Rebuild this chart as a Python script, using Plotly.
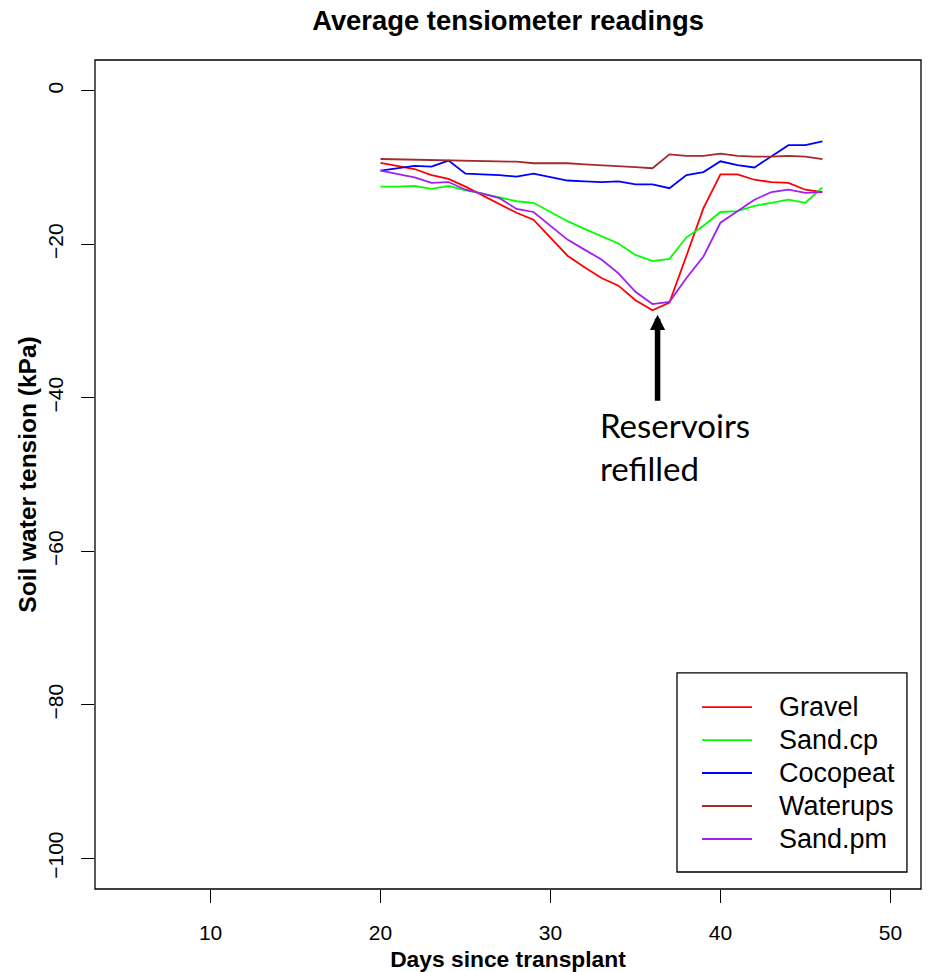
import plotly.graph_objects as go

days = list(range(20, 47))
gravel = [-9.4, -9.8, -10.2, -11.0, -11.5, -12.5, -13.6, -14.7, -15.9, -16.8, -19.2, -21.5, -23.0, -24.4,
          -25.4, -27.3, -28.6, -27.6, -21.5, -15.3, -10.9, -10.9, -11.6, -11.9, -12.0, -12.9, -13.2]
sand_cp = [-12.5, -12.5, -12.4, -12.8, -12.4, -13.0, -13.4, -13.9, -14.4, -14.6, -15.8, -17.0, -18.0, -18.9,
           -19.9, -21.4, -22.2, -21.9, -19.1, -17.6, -15.8, -15.7, -15.0, -14.6, -14.2, -14.6, -12.6]
cocopeat = [-10.4, -10.1, -9.8, -9.9, -9.1, -10.8, -10.9, -11.0, -11.2, -10.8, -11.25, -11.7, -11.8, -11.9,
            -11.8, -12.2, -12.2, -12.7, -11.0, -10.6, -9.2, -9.7, -10.0, -8.6, -7.1, -7.1, -6.6]
waterups = [-8.9, -8.95, -8.95, -9.0, -9.0, -9.1, -9.15, -9.2, -9.25, -9.45, -9.45, -9.45, -9.6, -9.7,
            -9.8, -9.95, -10.1, -8.3, -8.5, -8.5, -8.2, -8.5, -8.6, -8.6, -8.5, -8.6, -8.9]
sand_pm = [-10.4, -10.9, -11.3, -12.0, -11.9, -12.9, -13.4, -14.0, -15.4, -15.8, -17.6, -19.4, -20.7, -22.0,
           -23.8, -26.2, -27.8, -27.5, -24.4, -21.6, -17.2, -15.7, -14.2, -13.2, -12.9, -13.3, -13.2]

series_names = ["Gravel", "Sand.cp", "Cocopeat", "Waterups", "Sand.pm"]
series_values = [gravel, sand_cp, cocopeat, waterups, sand_pm]
series_colors = ["#FF0000", "#00FF00", "#0000FF", "#A52A2A", "#A020F0"]

x_ticks = [10, 20, 30, 40, 50]
y_ticks = [-100, -80, -60, -40, -20, 0]

arrow_x = 36.3
arrow_tip_y = -29.2
arrow_tail_y = -40.6
note_x = 32.8
note_y = -46.3
note_text = "Reservoirs<br>refilled"

FONT = "Liberation Sans, Arial, sans-serif"

W, H = 928, 972

fig = go.Figure()
for name, vals, col in zip(series_names, series_values, series_colors):
    fig.add_trace(go.Scatter(x=days, y=vals, mode="lines", name=name,
                             line=dict(color=col, width=1.8), showlegend=False))

# box around plot region
shapes = [dict(type="rect", xref="paper", yref="paper", x0=0, x1=1, y0=0, y1=1,
               line=dict(color="black", width=1.3), fillcolor="rgba(0,0,0,0)", layer="above")]

# manual legend (R style)
leg_x0, leg_x1, leg_y0, leg_y1 = 0.7046, 0.983, 0.0205, 0.2606
shapes.append(dict(type="rect", xref="paper", yref="paper", x0=leg_x0, x1=leg_x1, y0=leg_y0, y1=leg_y1,
                   line=dict(color="black", width=1.3), fillcolor="white", layer="above"))
annotations = []
row_top = 0.2195
row_step = 0.0398
for i, (name, col) in enumerate(zip(series_names, series_colors)):
    yy = row_top - i * row_step
    shapes.append(dict(type="line", xref="paper", yref="paper", x0=0.7349, x1=0.7954, y0=yy, y1=yy,
                       line=dict(color=col, width=1.8), layer="above"))
    annotations.append(dict(xref="paper", yref="paper", x=0.8257, y=yy, text=name, showarrow=False,
                            xanchor="left", yanchor="middle",
                            font=dict(family=FONT, size=27, color="black")))

# arrow
annotations.append(dict(x=arrow_x, y=arrow_tip_y, ax=arrow_x, ay=arrow_tail_y, xref="x", yref="y",
                        axref="x", ayref="y", text="", showarrow=True, arrowhead=2,
                        arrowsize=0.55, arrowwidth=5.5, arrowcolor="black"))
annotations.append(dict(x=note_x, y=note_y, xref="x", yref="y", text=note_text, showarrow=False,
                        xanchor="left", yanchor="middle", align="left",
                        font=dict(family="Lato, Carlito, sans-serif", size=33, color="black")))

fig.update_layout(
    width=W, height=H, autosize=False,
    margin=dict(l=95, r=7, t=60, b=83, pad=0),
    paper_bgcolor="white", plot_bgcolor="white",
    title=dict(text="<b>Average tensiometer readings</b>", x=508 / W, xref="container", xanchor="center",
               y=1 - 20 / H, yref="container", yanchor="middle",
               font=dict(family=FONT, size=27.4, color="black")),
    xaxis=dict(range=[3.2, 51.8], tickvals=x_ticks, ticks="outside", ticklen=13, tickwidth=1.3,
               tickcolor="black", showgrid=False, zeroline=False, showline=False, ticklabelstandoff=12,
               automargin=False,
               tickfont=dict(family=FONT, size=21, color="black"),
               title=dict(text="<b>Days since transplant</b>", standoff=12,
                          font=dict(family=FONT, size=22.8, color="black"))),
    yaxis=dict(range=[-104, 4], tickvals=y_ticks, ticks="outside", ticklen=13, tickwidth=1.3,
               tickcolor="black", showgrid=False, zeroline=False, showline=False, tickangle=-90,
               ticklabelstandoff=10, automargin=False,
               tickfont=dict(family=FONT, size=21, color="black"),
               title=dict(text="<b>Soil water tension (kPa)</b>", standoff=0,
                          font=dict(family=FONT, size=24.5, color="black"))),
    shapes=shapes,
    annotations=annotations,
)

fig.write_html("out.html", config={"displayModeBar": False},
               post_script="document.body.style.margin='0';document.body.style.overflow='hidden';")
